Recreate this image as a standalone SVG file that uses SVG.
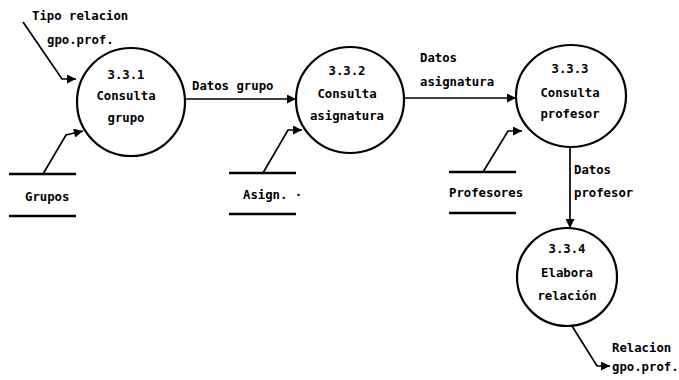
<svg xmlns="http://www.w3.org/2000/svg" width="679" height="380" viewBox="0 0 679 380">
  <defs>
    <marker id="arrow" viewBox="0 0 10 10" refX="10" refY="5" markerWidth="10" markerHeight="9" markerUnits="userSpaceOnUse" orient="auto">
      <path d="M0,0 L10,5 L0,10 z" fill="#000"/>
    </marker>
    <style>
      text { font-family: "DejaVu Sans Mono", "Liberation Mono", monospace; font-size: 12.3px; font-weight: bold; fill: #000; }
      .c { text-anchor: middle; }
      .proc { fill: #fff; stroke: #000; stroke-width: 2.2; }
      .store { stroke: #000; stroke-width: 2.6; }
      .flow { fill: none; stroke: #000; stroke-width: 1.7; marker-end: url(#arrow); }
    </style>
  </defs>
  <rect width="679" height="380" fill="#fff"/>

  <!-- data flows and their labels -->
  <g id="connectors">
    <polyline class="flow" points="23,22 62,79 76,79"/>
    <line class="flow" x1="185" y1="99" x2="296" y2="99"/>
    <line class="flow" x1="404" y1="98" x2="516" y2="98"/>
    <line class="flow" x1="570" y1="147" x2="570" y2="228"/>
    <polyline class="flow" points="572,326 597,366 610,366"/>
    <polyline class="flow" points="43,174 66,135 83,131"/>
    <polyline class="flow" points="263,173 288,130 302,130"/>
    <polyline class="flow" points="483,172 508,131 522,131"/>
    <text x="32" y="20">Tipo relacion</text>
    <text x="47" y="44">gpo.prof.</text>
    <text x="192" y="90">Datos grupo</text>
    <text x="420" y="62">Datos</text>
    <text x="420" y="86">asignatura</text>
    <text x="574" y="174">Datos</text>
    <text x="574" y="197">profesor</text>
    <text x="612" y="352">Relacion</text>
    <text x="612" y="371">gpo.prof.</text>
  </g>

  <!-- processes -->
  <g id="p331">
    <ellipse class="proc" cx="131" cy="102" rx="54" ry="54"/>
    <text class="c" x="126" y="79">3.3.1</text>
    <text class="c" x="126" y="100">Consulta</text>
    <text class="c" x="126" y="122">grupo</text>
  </g>
  <g id="p332">
    <ellipse class="proc" cx="350" cy="100" rx="54" ry="53"/>
    <text class="c" x="347" y="75">3.3.2</text>
    <text class="c" x="347" y="98">Consulta</text>
    <text class="c" x="347" y="120">asignatura</text>
  </g>
  <g id="p333">
    <ellipse class="proc" cx="571" cy="96" rx="55" ry="51"/>
    <text class="c" x="570" y="73">3.3.3</text>
    <text class="c" x="570" y="97">Consulta</text>
    <text class="c" x="570" y="118">profesor</text>
  </g>
  <g id="p334">
    <ellipse class="proc" cx="567" cy="277" rx="50" ry="49"/>
    <text class="c" x="567" y="253">3.3.4</text>
    <text class="c" x="567" y="277">Elabora</text>
    <text class="c" x="567" y="300">relación</text>
  </g>

  <!-- data stores -->
  <g id="grupos">
    <line class="store" x1="9" y1="174" x2="76" y2="174"/>
    <line class="store" x1="9" y1="216" x2="76" y2="216"/>
    <text x="25" y="201">Grupos</text>
  </g>
  <g id="asign">
    <line class="store" x1="229" y1="173" x2="296" y2="173"/>
    <line class="store" x1="229" y1="214" x2="296" y2="214"/>
    <text x="243" y="199">Asign. ·</text>
  </g>
  <g id="profesores">
    <line class="store" x1="449" y1="172" x2="516" y2="172"/>
    <line class="store" x1="449" y1="213" x2="516" y2="213"/>
    <text x="449" y="197">Profesores</text>
  </g>
</svg>
